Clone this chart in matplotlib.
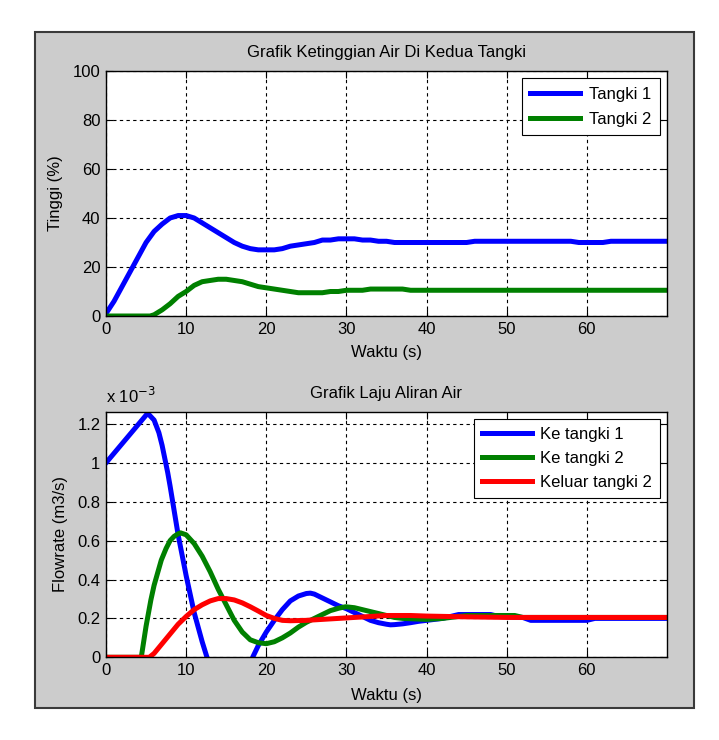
import matplotlib
matplotlib.use("Agg")
import matplotlib.pyplot as plt
from matplotlib.patches import Rectangle
from matplotlib.ticker import FuncFormatter

# ---------------- data ----------------
t_tank1 = [0, 1, 2, 3, 4, 5, 6, 7, 8, 9, 10, 11, 12, 13, 14, 15, 16, 17, 18, 19, 20,
           21, 22, 23, 24, 25, 26, 27, 28, 29, 30, 31, 32, 33, 34, 35, 36, 38, 40, 45,
           46, 50, 58, 59, 62, 63, 70]
h_tank1 = [1, 6, 12, 18, 24, 30, 34.5, 37.5, 40, 41, 41, 40, 38, 36, 34, 32, 30, 28.5,
           27.5, 27, 27, 27, 27.5, 28.5, 29, 29.5, 30, 31, 31, 31.5, 31.5, 31.5, 31, 31,
           30.5, 30.5, 30, 30, 30, 30, 30.5, 30.5, 30.5, 30, 30, 30.5, 30.5]

t_tank2 = [0, 5.5, 6, 7, 8, 9, 10, 11, 12, 13, 14, 15, 16, 17, 18, 19, 20, 21, 22, 23,
           24, 25, 26, 27, 28, 29, 30, 32, 33, 37, 38, 70]
h_tank2 = [0, 0, 0.5, 2.5, 5, 8, 10, 12.5, 14, 14.5, 15, 15, 14.5, 14, 13, 12, 11.5,
           11, 10.5, 10, 9.5, 9.5, 9.5, 9.5, 10, 10, 10.5, 10.5, 11, 11, 10.5, 10.5]

# flowrates in units of 1e-3 m3/s
t_in1 = [0, 5.2, 6, 6.6, 7, 7.7, 8, 9, 10, 11, 12, 12.6, 13, 14, 15, 16, 17, 18, 18.3,
         19, 20, 21, 22, 23, 24, 25, 25.5, 26, 27, 28, 29, 30, 31, 32, 33, 34, 35,
         35.5, 36, 37, 38, 39, 40, 42, 43, 44, 48, 49, 52, 53, 60, 61, 70]
q_in1 = [1.0, 1.255, 1.22, 1.155, 1.09, 0.95, 0.88, 0.63, 0.42, 0.23, 0.08, 0.0,
         -0.05, -0.15, -0.2, -0.2, -0.15, -0.05, 0.0, 0.06, 0.13, 0.19, 0.245, 0.29,
         0.315, 0.328, 0.33, 0.325, 0.305, 0.285, 0.265, 0.25, 0.23, 0.21, 0.19, 0.178,
         0.17, 0.167, 0.168, 0.172, 0.178, 0.185, 0.19, 0.2, 0.21, 0.22, 0.22, 0.21,
         0.205, 0.19, 0.19, 0.2, 0.2]

t_in2 = [0, 4.4, 5, 5.6, 6, 6.9, 7.5, 8, 8.5, 9, 9.3, 10, 11, 12, 13, 14, 15, 16, 17,
         18, 19, 20, 21, 22, 23, 24, 25, 26, 27, 28, 29, 29.9, 31, 32, 33, 34, 35, 36,
         37, 40, 42, 45, 51, 52, 70]
q_in2 = [0, 0, 0.16, 0.295, 0.37, 0.5, 0.56, 0.6, 0.622, 0.635, 0.64, 0.63, 0.585,
         0.52, 0.44, 0.35, 0.27, 0.19, 0.13, 0.09, 0.075, 0.07, 0.08, 0.1, 0.125, 0.155,
         0.18, 0.2, 0.22, 0.24, 0.252, 0.26, 0.255, 0.245, 0.235, 0.225, 0.215, 0.205,
         0.2, 0.195, 0.2, 0.215, 0.215, 0.205, 0.205]

t_out2 = [0, 5.4, 6, 7, 8, 9, 10, 11, 12, 13, 14, 15, 16, 17, 18, 19, 20, 21, 22,
          23, 25, 27, 29, 31, 33, 35, 38, 40, 45, 50, 70]
q_out2 = [0, 0, 0.02, 0.07, 0.12, 0.17, 0.21, 0.245, 0.27, 0.29, 0.302, 0.302, 0.295,
          0.28, 0.26, 0.238, 0.215, 0.2, 0.19, 0.188, 0.19, 0.195, 0.2, 0.205, 0.21,
          0.215, 0.215, 0.212, 0.208, 0.205, 0.205]

top_ticks = [0, 20, 40, 60, 80, 100]
bot_ticks = [0, 0.2, 0.4, 0.6, 0.8, 1.0, 1.2]
x_ticks = [0, 10, 20, 30, 40, 50, 60]

# ---------------- style ----------------
plt.rcParams['font.family'] = ['Liberation Sans', 'DejaVu Sans']
FS = 12
plt.rcParams['font.size'] = FS

BLUE = (0, 0, 1)
GREEN = (0, 0.5, 0)
RED = (1, 0, 0)
LW = 3.6

W, H = 719, 740
fig = plt.figure(figsize=(W / 100, H / 100), dpi=100, facecolor='white')
fig.patches.append(Rectangle((34.6 / W, 1 - 707.7 / H), 659 / W, 676 / H,
                             transform=fig.transFigure, facecolor='#cccccc',
                             edgecolor='#3a3a3a', linewidth=1.5, zorder=-10))

ax1 = fig.add_axes([106 / W, 1 - 316 / H, 561 / W, 245 / H])
ax2 = fig.add_axes([106 / W, 1 - 657.3 / H, 561 / W, 245.6 / H])
ax1.set_zorder(5)
ax2.set_zorder(5)


def style(ax, lp):
    ax.set_facecolor('white')
    ax.grid(True, color='black', linestyle=(0, (3, 3)), linewidth=0.8)
    ax.tick_params(direction='in', top=True, right=True, length=5, width=0.8,
                   labelsize=FS, pad=4)
    for s in ax.spines.values():
        s.set_linewidth(1.0)
        s.set_color('black')
    ax.set_xlim(0, 70)
    ax.set_xticks(x_ticks)
    ax.set_xlabel('Waktu (s)', fontsize=FS, labelpad=lp)


ax1.plot(t_tank1, h_tank1, color=BLUE, lw=LW, label='Tangki 1')
ax1.plot(t_tank2, h_tank2, color=GREEN, lw=LW, label='Tangki 2')
style(ax1, 6)
ax1.set_ylim(0, 100)
ax1.set_yticks(top_ticks)
ax1.set_ylabel('Tinggi (%)', fontsize=FS, labelpad=7)
ax1.set_title('Grafik Ketinggian Air Di Kedua Tangki', fontsize=FS, pad=10)
leg1 = ax1.legend(loc='upper right', fontsize=FS, frameon=True, fancybox=False,
                  framealpha=1, edgecolor='black', handlelength=3.0,
                  borderaxespad=0.45, borderpad=0.5, handletextpad=0.5,
                  labelspacing=0.6)
leg1.get_frame().set_linewidth(0.8)

ax2.plot(t_in1, q_in1, color=BLUE, lw=LW, label='Ke tangki 1')
ax2.plot(t_in2, q_in2, color=GREEN, lw=LW, label='Ke tangki 2')
ax2.plot(t_out2, q_out2, color=RED, lw=LW, label='Keluar tangki 2')
style(ax2, 7)
ax2.set_ylim(0, 1.263)
ax2.set_yticks(bot_ticks)
ax2.yaxis.set_major_formatter(FuncFormatter(lambda v, p: '%g' % round(v, 3)))
ax2.set_ylabel('Flowrate (m3/s)', fontsize=FS, labelpad=7)
ax2.set_title('Grafik Laju Aliran Air', fontsize=FS, pad=10)
ax2.text(0.0, 1.025, r'x 10$^{-3}$', transform=ax2.transAxes, fontsize=FS,
         ha='left', va='bottom')
leg2 = ax2.legend(loc='upper right', fontsize=FS, frameon=True, fancybox=False,
                  framealpha=1, edgecolor='black', handlelength=3.0,
                  borderaxespad=0.45, borderpad=0.45, handletextpad=0.5,
                  labelspacing=0.55)
leg2.get_frame().set_linewidth(0.8)

fig.savefig('out.png', dpi=100, facecolor='white')
